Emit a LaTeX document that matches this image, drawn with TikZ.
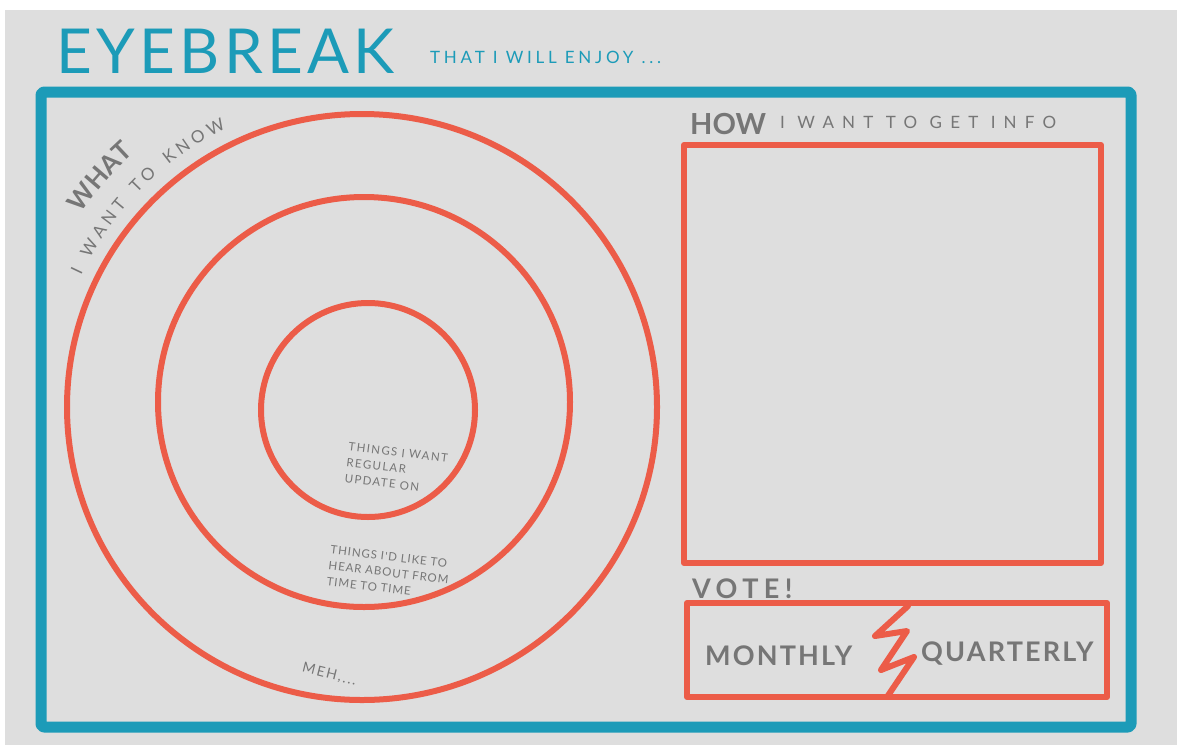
\documentclass[tikz,border=0pt]{standalone}
\usepackage{fontspec}
\usetikzlibrary{decorations.text,calc}
\setmainfont{Lato}
\newfontfamily\hand[LetterSpace=12]{Lato}
\newfontfamily\handm[LetterSpace=8]{Lato}
\newfontfamily\handsub[LetterSpace=22]{Lato}
\newfontfamily\handinfo[LetterSpace=48]{Lato}
\newfontfamily\handtitle[LetterSpace=7]{Lato}
\newfontfamily\handb[LetterSpace=8]{Lato Bold}
\newfontfamily\handbw[LetterSpace=20]{Lato Bold}
\newfontfamily\handbn{Lato Bold}
\definecolor{bg}{RGB}{222,222,222}
\definecolor{teal}{RGB}{28,155,184}
\definecolor{coral}{RGB}{236,92,72}
\definecolor{ink}{RGB}{118,118,118}
\tikzset{
  redline/.style={draw=coral,line width=6pt,line join=round,line cap=round},
  blueline/.style={draw=teal,line width=11pt,line join=round,rounded corners=3pt},
  graytxt/.style={text=ink,inner sep=0pt},
}
\begin{document}
\begin{tikzpicture}[x=1pt,y=-1pt]
\useasboundingbox (0,0) rectangle (1177,745);
\fill[white] (0,0) rectangle (1177,745);
\fill[bg] (5,10) rectangle (1177,745);
% title
\node[text=teal,inner sep=0pt,anchor=south west] (title) at (56,74) {\handtitle\fontsize{62}{62}\selectfont EYEBREAK};
\node[text=teal,inner sep=0pt,anchor=south west] (sub) at (430,64) {\handsub\fontsize{17}{17}\selectfont THAT I WILL ENJOY ...};
% frame
\draw[blueline] (41,92) rectangle (1131,727);
% circles
\coordinate (c0) at (362,407);
\draw[redline] (c0) ellipse [x radius=295,y radius=293];
\draw[redline] (364,402) ellipse [x radius=206,y radius=205];
\draw[redline] (368,410) circle [radius=107];
% what (curved)
\path[decorate,decoration={text along path,text align=fit to path,text color=ink,
  text={|\handbn\fontsize{26}{26}\selectfont|WHAT}}]
  ($(c0)+(214.5:341)$) arc[start angle=214.5,end angle=228,radius=341];
\path[decorate,decoration={text along path,text align=fit to path,text color=ink,
  text={|\hand\fontsize{17}{17}\selectfont|I WANT TO KNOW}}]
  ($(c0)+(205:310)$) arc[start angle=205,end angle=244,radius=310];
% inner texts
\node[graytxt,rotate=-7,anchor=north west,align=left,font=\hand\fontsize{11.5}{16}\selectfont] (inner) at (349,442) {THINGS I WANT\\REGULAR\\UPDATE ON};
\node[graytxt,rotate=-7,anchor=north west,align=left,font=\handm\fontsize{11.5}{16}\selectfont] (mid) at (331,545) {THINGS I'D LIKE TO\\HEAR ABOUT FROM\\TIME TO TIME};
\node[graytxt,rotate=-14,anchor=north west] (meh) at (304,662) {\hand\fontsize{14}{14}\selectfont MEH,...};
% how
\draw[redline,line cap=butt] (684,145) rectangle (1101,563);
\node[graytxt,anchor=south west] (how) at (690,135) {\handbn\fontsize{29}{29}\selectfont HOW};
\node[graytxt,anchor=south west] (howrest) at (780,129) {\handinfo\fontsize{17}{17}\selectfont I WANT TO GET INFO};
% vote
\node[graytxt,anchor=south west] (vote) at (692,599) {\handbw\fontsize{27}{27}\selectfont VOTE!};
\draw[redline,line cap=butt] (687,603) rectangle (1107,697);
\coordinate (b1) at (908,606);
\coordinate (b6) at (887,697);
\draw[redline] (b1) -- (875,636) -- (907,631) -- (881,670) -- (914,657) -- (b6);
\node[graytxt,anchor=south west] (monthly) at (705,666) {\handb\fontsize{27}{27}\selectfont MONTHLY};
\node[graytxt,anchor=south west] (quarterly) at (921,666) {\handb\fontsize{27}{27}\selectfont QUARTERLY};
\end{tikzpicture}
\end{document}
